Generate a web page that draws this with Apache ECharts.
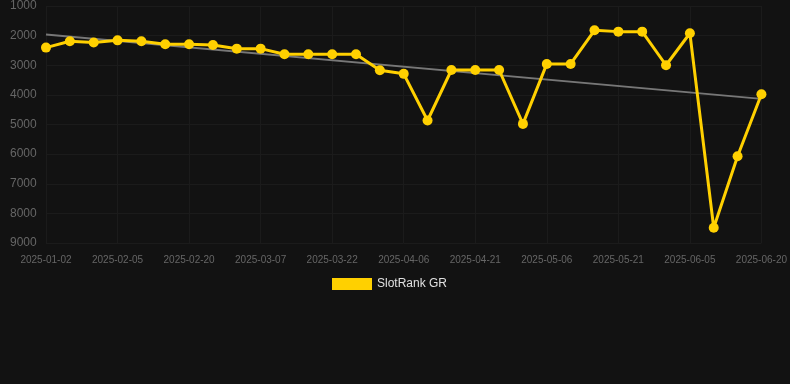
<!DOCTYPE html>
<html>
<head>
<meta charset="utf-8">
<script src="https://cdn.jsdelivr.net/npm/echarts@6/dist/echarts.min.js"></script>
<style>
  html, body { margin: 0; padding: 0; background: #121212; }
  #chart { width: 790px; height: 384px; }
</style>
</head>
<body>
<div id="chart"></div>
<script>
const dates = [
  '2025-01-02', '2025-01-26', '2025-01-31', '2025-02-05', '2025-02-10', '2025-02-15',
  '2025-02-20', '2025-02-25', '2025-03-02', '2025-03-07', '2025-03-12', '2025-03-17',
  '2025-03-22', '2025-03-27', '2025-04-01', '2025-04-06', '2025-04-11', '2025-04-16',
  '2025-04-21', '2025-04-26', '2025-05-01', '2025-05-06', '2025-05-11', '2025-05-16',
  '2025-05-21', '2025-05-26', '2025-05-31', '2025-06-05', '2025-06-10', '2025-06-15',
  '2025-06-20'
];
const ranks = [
  2405, 2190, 2235, 2160, 2190, 2290, 2290, 2315, 2440, 2440, 2630, 2630,
  2630, 2630, 3170, 3290, 4865, 3160, 3160, 3160, 4980, 2955, 2955, 1820,
  1865, 1865, 3000, 1920, 8485, 6070, 3980
];
const trendStart = 1965;
const trendEnd = 4135;

// trend drawn as a line between first and last category
const trend = dates.map((d, i) => i === 0 ? trendStart : (i === dates.length - 1 ? trendEnd : null));

const chart = echarts.init(document.getElementById('chart'));
chart.setOption({
  backgroundColor: '#121212',
  animation: false,
  grid: { left: 46, right: 28, top: 6, bottom: 141 },
  legend: {
    top: 273,
    left: 327,
    itemWidth: 40,
    itemHeight: 12,
    data: [{ name: 'SlotRank GR', icon: 'rect' }],
    textStyle: { color: '#e0e0e0', fontSize: 12 }
  },
  xAxis: {
    type: 'category',
    data: dates,
    boundaryGap: false,
    axisLine: { show: false },
    axisTick: { show: false },
    axisLabel: { interval: 2, color: '#666', fontSize: 10, margin: 12 },
    splitLine: { show: true, interval: 2, lineStyle: { color: '#1b1b1b' } }
  },
  yAxis: {
    type: 'value',
    inverse: true,
    min: 1000,
    max: 9000,
    interval: 1000,
    axisLine: { show: false },
    axisTick: { show: false },
    axisLabel: {
      color: '#666', fontSize: 12, margin: 36, align: 'left',
      formatter: (v) => String(v)
    },
    splitLine: { lineStyle: { color: '#1b1b1b' } }
  },
  series: [
    {
      name: 'trend',
      type: 'line',
      data: trend,
      connectNulls: true,
      showSymbol: false,
      silent: true,
      lineStyle: { color: '#777', width: 2 },
      z: 1
    },
    {
      name: 'SlotRank GR',
      type: 'line',
      data: ranks,
      symbol: 'circle',
      symbolSize: 10,
      itemStyle: { color: '#FFD000' },
      lineStyle: { color: '#FFD000', width: 3 },
      z: 2
    }
  ]
});
</script>
</body>
</html>
